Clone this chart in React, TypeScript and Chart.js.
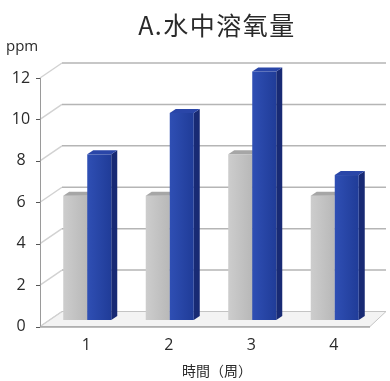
import { useEffect, useRef } from "react";
import { Chart, registerables } from "chart.js";

Chart.register(...registerables);

// Dissolved oxygen over four weeks, two treatments
const weeks = ["1", "2", "3", "4"];
const grayValues = [6, 6, 8, 6];
const blueValues = [8, 10, 12, 7];
const yTicks = [0, 2, 4, 6, 8, 10, 12];
const titleText = "A.水中溶氧量";
const yUnit = "ppm";
const xTitle = "時間（周）";

const W = 390;
const H = 381;

// 3D geometry (pixels)
const WALL_DX_L = 22;
const WALL_DX_R = 16;
const WALL_DY = 15;
const BAR_DX = 6;
const BAR_DY = 6.5;
const SIDE_DX = 6;
const SIDE_DY = 4;

const LATIN = "'Open Sans', 'Noto Sans', sans-serif";
const CJK = "'Noto Sans CJK TC', 'Noto Sans CJK SC', sans-serif";

const palette = [
  { front0: "#cdcdcd", front1: "#b8b8b8", side: "#9d9d9d", top: "#a6a6a6" },
  { front0: "#2f4fb4", front1: "#203c98", side: "#182a74", top: "#2a46a8" },
];

const scene3d = {
  id: "scene3d",
  beforeDatasetsDraw(chart: any) {
    const { ctx, chartArea, scales } = chart;
    const y = scales.y;
    const left = chartArea.left;
    const right = chartArea.right;
    const backL = left + WALL_DX_L;
    const backR = right + WALL_DX_R;
    const y0 = y.getPixelForValue(0);

    ctx.save();
    // floor slab
    ctx.beginPath();
    ctx.moveTo(left, y0);
    ctx.lineTo(right, y0);
    ctx.lineTo(backR, y0 - WALL_DY);
    ctx.lineTo(backL, y0 - WALL_DY);
    ctx.closePath();
    ctx.fillStyle = "#f3f3f3";
    ctx.fill();
    ctx.strokeStyle = "#c4c4c4";
    ctx.lineWidth = 1;
    ctx.stroke();

    // grid on side and back walls
    yTicks.forEach((v) => {
      const py = y.getPixelForValue(v);
      ctx.beginPath();
      ctx.moveTo(left, py);
      ctx.lineTo(backL, py - WALL_DY);
      ctx.strokeStyle = "#d2d2d2";
      ctx.lineWidth = 1.5;
      ctx.stroke();
      if (v !== 0) {
        ctx.beginPath();
        ctx.moveTo(backL, py - WALL_DY);
        ctx.lineTo(backR, py - WALL_DY);
        ctx.strokeStyle = "#b5b5b5";
        ctx.lineWidth = 1.5;
        ctx.stroke();
      }
    });

    // floor front edge
    ctx.beginPath();
    ctx.moveTo(left, y0 + 0.5);
    ctx.lineTo(right, y0 + 0.5);
    ctx.strokeStyle = "#a8a8a8";
    ctx.lineWidth = 1.5;
    ctx.stroke();

    // value axis and its tick marks
    ctx.beginPath();
    ctx.moveTo(left + 0.5, y.getPixelForValue(12));
    ctx.lineTo(left + 0.5, y0);
    ctx.strokeStyle = "#9a9a9a";
    ctx.lineWidth = 1;
    ctx.stroke();
    yTicks.forEach((v) => {
      const py = Math.round(y.getPixelForValue(v)) + 0.5;
      ctx.beginPath();
      ctx.moveTo(left - 4, py);
      ctx.lineTo(left, py);
      ctx.strokeStyle = "#555555";
      ctx.stroke();
    });
    ctx.restore();
  },
  afterDatasetsDraw(chart: any) {
    const { ctx } = chart;
    const metas = chart.data.datasets.map((_: any, i: number) => chart.getDatasetMeta(i));
    const count = chart.data.labels.length;
    ctx.save();
    for (let c = 0; c < count; c++) {
      metas.forEach((meta: any, di: number) => {
        const el = meta.data[c];
        const { x, y, base, width } = el.getProps(["x", "y", "base", "width"], true);
        const col = palette[di];
        const x0 = x - width / 2 + BAR_DX;
        const x1 = x + width / 2 + BAR_DX;
        const yt = y - BAR_DY;
        const yb = base - BAR_DY;

        // right side face
        ctx.beginPath();
        ctx.moveTo(x1, yt);
        ctx.lineTo(x1 + SIDE_DX, yt - SIDE_DY);
        ctx.lineTo(x1 + SIDE_DX, yb - SIDE_DY);
        ctx.lineTo(x1, yb);
        ctx.closePath();
        ctx.fillStyle = col.side;
        ctx.fill();

        // front face
        const g = ctx.createLinearGradient(x0, 0, x1, 0);
        g.addColorStop(0, col.front0);
        g.addColorStop(1, col.front1);
        ctx.fillStyle = g;
        ctx.fillRect(x0, yt, x1 - x0, yb - yt);

        // top face
        ctx.beginPath();
        ctx.moveTo(x0, yt);
        ctx.lineTo(x1, yt);
        ctx.lineTo(x1 + SIDE_DX, yt - SIDE_DY);
        ctx.lineTo(x0 + SIDE_DX, yt - SIDE_DY);
        ctx.closePath();
        ctx.fillStyle = col.top;
        ctx.fill();
      });
    }
    ctx.restore();
  },
  afterDraw(chart: any) {
    const { ctx, chartArea, scales } = chart;
    const { x, y } = scales;
    const mid = (chartArea.left + chartArea.right + WALL_DX_R) / 2 + 4;
    ctx.save();
    ctx.fillStyle = "#2a2a2a";

    // title
    ctx.font = `25px ${CJK}`;
    (ctx as any).letterSpacing = "1.5px";
    ctx.textAlign = "center";
    ctx.textBaseline = "middle";
    ctx.fillText(titleText, mid, 25);
    (ctx as any).letterSpacing = "0px";

    // unit
    ctx.font = `15px ${LATIN}`;
    ctx.textAlign = "left";
    ctx.fillText(yUnit, 6, 47);

    // value tick labels
    ctx.font = `16px ${LATIN}`;
    ctx.textAlign = "center";
    yTicks.forEach((v) => {
      ctx.fillText(String(v), 21, y.getPixelForValue(v));
    });

    // category labels
    weeks.forEach((w, i) => {
      ctx.fillText(w, x.getPixelForValue(i) + 5, 345);
    });

    // axis title
    ctx.font = `14px ${CJK}`;
    ctx.fillText(xTitle, mid, 371);
    ctx.restore();
  },
};

export default function App() {
  const ref = useRef<HTMLCanvasElement | null>(null);

  useEffect(() => {
    document.body.style.margin = "0";
    const canvas = ref.current;
    if (!canvas) return;
    const chart = new Chart(canvas, {
      type: "bar",
      data: {
        labels: weeks,
        datasets: [
          { data: grayValues, backgroundColor: "rgba(0,0,0,0)", categoryPercentage: 0.582, barPercentage: 1 },
          { data: blueValues, backgroundColor: "rgba(0,0,0,0)", categoryPercentage: 0.582, barPercentage: 1 },
        ],
      },
      options: {
        responsive: false,
        devicePixelRatio: 1,
        animation: false,
        layout: { padding: { left: 40, right: 20, top: 78, bottom: 54.5 } },
        scales: {
          x: { display: false },
          y: { display: false, min: 0, max: 12 },
        },
        plugins: {
          legend: { display: false },
          tooltip: { enabled: false },
          title: { display: false },
        },
      },
      plugins: [scene3d],
    });
    return () => chart.destroy();
  }, []);

  return (
    <div style={{ width: W, height: H, background: "#ffffff" }}>
      <canvas ref={ref} width={W} height={H} style={{ display: "block" }} />
    </div>
  );
}
